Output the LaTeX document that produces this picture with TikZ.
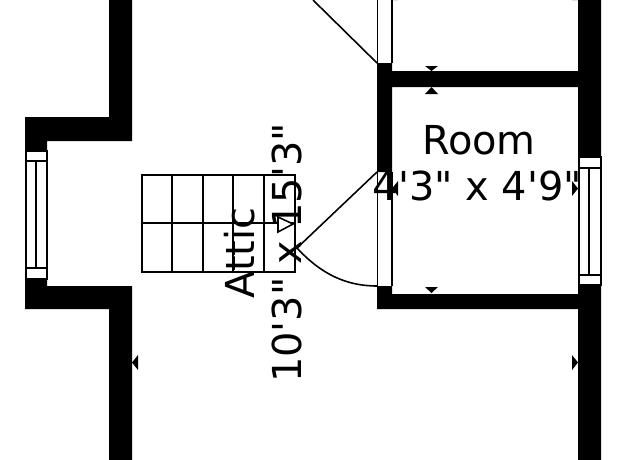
\documentclass[tikz,border=0pt]{standalone}
\usepackage{fontspec}
\setmainfont{DejaVu Sans}
\newcommand{\ft}{\textquotesingle}
\newcommand{\inch}{\textquotedbl}
\tikzset{
  wall/.style={fill=black,draw=none},
  thin line/.style={draw=black,line width=0.9pt},
  win line/.style={draw=black,line width=0.8pt},
  tick/.style={fill=black,draw=none},
  room label/.style={font=\fontsize{22.7}{26}\selectfont,inner sep=0pt,align=center}
}
\begin{document}
\begin{tikzpicture}[x=0.02cm,y=0.02cm]
\useasboundingbox (0,0) rectangle (640,-460);
% walls
\fill [wall] (109,0) -- (132,0) -- (132,-141) -- (47,-141) -- (47,-151) -- (25,-151) -- (25,-117) -- (109,-117) -- cycle;
\fill [wall] (25,-279) -- (47,-279) -- (47,-286) -- (132,-286) -- (132,-460) -- (109,-460) -- (109,-309) -- (25,-309) -- cycle;
\fill [wall] (377,-63) -- (392,-63) -- (392,-71) -- (578,-71) -- (578,0) -- (601,0) -- (601,-157) -- (578,-157) -- (578,-87) -- (392,-87) -- (392,-172) -- (377,-172) -- cycle;
\fill [wall] (377,-286) -- (392,-286) -- (392,-294) -- (578,-294) -- (578,-285) -- (601,-285) -- (601,-460) -- (578,-460) -- (578,-309) -- (377,-309) -- cycle;
% windows
\draw [win line] (26,-151) rectangle (47,-279);
\draw [win line] (26,-161) -- (47,-161);
\draw [win line] (26,-268) -- (47,-268);
\draw [win line] (36,-161) -- (36,-268);
\draw [win line] (579,-157) rectangle (601,-285);
\draw [win line] (579,-168) -- (601,-168);
\draw [win line] (579,-275) -- (601,-275);
\draw [win line] (589,-168) -- (589,-275);
% door openings
\draw [win line] (377.5,0) -- (377.5,-63);
\draw [win line] (392,0) -- (392,-63);
\draw [win line] (377.5,-172) -- (377.5,-286);
\draw [win line] (392,-172) -- (392,-286);
% stairs
\draw [thin line] (142,-175) rectangle (295,-272);
\draw [thin line] (142,-223) -- (295,-223);
\foreach \sx in {172,203,233,264}
  \draw [thin line] (\sx,-175) -- (\sx,-272);
\draw [thin line,fill=white] (278,-217) -- (293,-224) -- (278,-232) -- cycle;
% doors
\draw [thin line] (377,-63) -- (313,0);
\draw [thin line] (377,-172) -- (297,-248);
\draw [thin line] (297,-248) .. controls (320,-273) and (345,-286) .. (377,-286);
% dimension ticks
\fill [tick] (425,-66) -- (438,-66) -- (431.5,-71) -- cycle;
\fill [tick] (425,-94) -- (438,-94) -- (431.5,-87) -- cycle;
\fill [tick] (425,-287) -- (438,-287) -- (431.5,-293) -- cycle;
\fill [tick] (138,-355) -- (138,-370) -- (132,-362.5) -- cycle;
\fill [tick] (572,-355) -- (572,-370) -- (578,-362.5) -- cycle;
\fill [tick] (398,-181) -- (398,-196) -- (392,-188.5) -- cycle;
\fill [tick] (572,-181) -- (572,-196) -- (578,-188.5) -- cycle;
\fill [tick] (398,0) -- (392,0) -- (398,5) -- cycle;
\fill [tick] (572,0) -- (578,0) -- (572,5) -- cycle;
% labels
\node [room label] (room) at (479,-140) {Room};
\node [room label] (roomsize) at (477.5,-186) {4\ft3\inch{} x 4\ft9\inch};
\node [room label,rotate=90] (attic) at (240,-253) {Attic};
\node [room label,rotate=90] (atticsize) at (287,-253) {10\ft3\inch{} x 15\ft3\inch};
\end{tikzpicture}
\end{document}
